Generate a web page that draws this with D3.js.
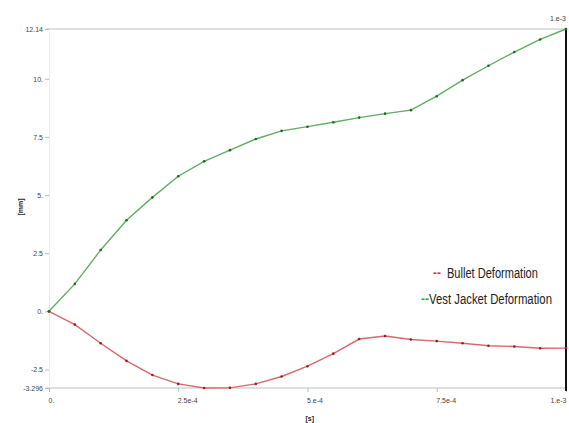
<!DOCTYPE html>
<html>
<head>
<meta charset="utf-8">
<script src="https://cdn.jsdelivr.net/npm/d3@7/dist/d3.min.js"></script>
<style>
  html, body { margin: 0; padding: 0; background: #ffffff; }
  svg { display: block; }
  .tick text { font-family: "Liberation Sans", Arial, sans-serif; font-size: 7px; fill: #444; }
</style>
</head>
<body>
<svg id="chart" width="569" height="423"></svg>
<script>
// Time samples [s]
const time = [0, 5e-5, 1e-4, 1.5e-4, 2e-4, 2.5e-4, 3e-4, 3.5e-4, 4e-4, 4.5e-4, 5e-4,
              5.5e-4, 6e-4, 6.5e-4, 7e-4, 7.5e-4, 8e-4, 8.5e-4, 9e-4, 9.5e-4, 1e-3];
// Directional deformation [mm]
const bulletDeformation = [0, -0.57, -1.37, -2.13, -2.74, -3.12, -3.296, -3.29, -3.12, -2.80, -2.36,
                           -1.82, -1.19, -1.06, -1.21, -1.28, -1.37, -1.48, -1.51, -1.59, -1.58];
const vestDeformation = [0, 1.18, 2.64, 3.92, 4.90, 5.81, 6.45, 6.93, 7.41, 7.76, 7.94,
                         8.13, 8.33, 8.50, 8.65, 9.25, 9.94, 10.56, 11.15, 11.69, 12.14];
// Axis ticks and labels
const yTicks = [-3.296, -2.5, 0, 2.5, 5, 7.5, 10, 12.14];
const yTickLabels = ["-3.296", "-2.5", "0.", "2.5", "5.", "7.5", "10.", "12.14"];
const xTicks = [0, 2.5e-4, 5e-4, 7.5e-4, 1e-3];
const xTickLabels = ["0.", "2.5e-4", "5.e-4", "7.5e-4", "1.e-3"];
const legendLabels = ["Bullet Deformation", "Vest Jacket Deformation"];

const svg = d3.select("#chart");
const plotLeft = 49, plotRight = 566, plotTop = 29, plotBottom = 388;

const x = d3.scaleLinear().domain([0, 1e-3]).range([plotLeft, plotRight]);
const y = d3.scaleLinear().domain([-3.296, 12.14]).range([plotBottom, plotTop]);

// frame lines at the range limits
svg.append("line").attr("x1", plotLeft - 3).attr("x2", plotRight).attr("y1", y(12.14)).attr("y2", y(12.14))
  .attr("stroke", "#d4d4d4").attr("stroke-width", 1.6);
svg.append("line").attr("x1", plotLeft - 3).attr("x2", plotRight).attr("y1", y(-3.296)).attr("y2", y(-3.296))
  .attr("stroke", "#d4d4d4").attr("stroke-width", 1.6);

// y axis
const yAxis = svg.append("g").attr("transform", `translate(${plotLeft},0)`)
  .call(d3.axisLeft(y).tickValues(yTicks)
    .tickFormat((d, i) => yTickLabels[i]).tickSize(4).tickPadding(2));
yAxis.select(".domain").attr("stroke", "#ececec");
yAxis.selectAll(".tick line").attr("stroke", "#bbb");
yAxis.selectAll(".tick text").attr("dy", "0.35em");

// x axis
const xAxis = svg.append("g").attr("transform", `translate(0,${plotBottom})`)
  .call(d3.axisBottom(x).tickValues(xTicks)
    .tickFormat((d, i) => xTickLabels[i]).tickSize(4).tickPadding(6));
xAxis.select(".domain").remove();
xAxis.selectAll(".tick line").attr("stroke", "#bbb");
xAxis.selectAll(".tick text")
  .attr("text-anchor", (d, i) => i === xTicks.length - 1 ? "end" : "start")
  .attr("dx", (d, i) => i === xTicks.length - 1 ? 0 : -1);

// current-time marker
svg.append("line").attr("x1", x(1e-3)).attr("x2", x(1e-3)).attr("y1", y(12.14)).attr("y2", plotBottom + 3)
  .attr("stroke", "#111").attr("stroke-width", 2);
svg.append("text").attr("x", x(1e-3)).attr("y", 21).attr("text-anchor", "end")
  .attr("font-family", "Liberation Sans, Arial, sans-serif").attr("font-size", 7).attr("fill", "#444")
  .text(xTickLabels[xTickLabels.length - 1]);

// axis units
svg.append("text").attr("transform", `translate(23,207) rotate(-90)`).attr("text-anchor", "middle")
  .attr("font-family", "Liberation Sans, Arial, sans-serif").attr("font-size", 7).attr("font-weight", "bold")
  .attr("fill", "#222").text("[mm]");
svg.append("text").attr("x", x(5e-4) - 2).attr("y", 421)
  .attr("font-family", "Liberation Sans, Arial, sans-serif").attr("font-size", 7).attr("font-weight", "bold")
  .attr("fill", "#222").text("[s]");

// series
const series = [
  { values: bulletDeformation, line: "#d46a6a", dot: "#a81818" },
  { values: vestDeformation, line: "#62ad62", dot: "#1d6a1d" }
];
const lineGen = d3.line().x(d => x(d[0])).y(d => y(d[1]));
series.forEach(s => {
  const pts = time.map((t, i) => [t, s.values[i]]);
  svg.append("path").datum(pts).attr("d", lineGen)
    .attr("fill", "none").attr("stroke", s.line).attr("stroke-width", 1.4);
  svg.append("g").selectAll("circle").data(pts).join("circle")
    .attr("cx", d => x(d[0])).attr("cy", d => y(d[1])).attr("r", 1.3).attr("fill", s.dot);
});

// legend: condensed labels, squeezed horizontally to a target width
const legend = svg.append("g").attr("font-family", "Liberation Sans, Arial, sans-serif").attr("fill", "#222");
const legendRows = [
  { label: legendLabels[0], color: "#e03030", cy: 278, len: 91, dashX: 433, gap: 14 },
  { label: legendLabels[1], color: "#3aa03a", cy: 304, len: 123, dashX: 421, gap: 8 }
];
legendRows.forEach(r => {
  legend.append("text").attr("x", r.dashX).attr("y", r.cy - 1).attr("font-size", 12)
    .attr("fill", r.color).attr("font-weight", "bold").text("--");
  const t = legend.append("text").attr("font-size", 15.5).text(r.label);
  const w = t.node().getComputedTextLength();
  t.attr("transform", `translate(${r.dashX + r.gap},${r.cy}) scale(${r.len / w},1)`);
});
</script>
</body>
</html>
